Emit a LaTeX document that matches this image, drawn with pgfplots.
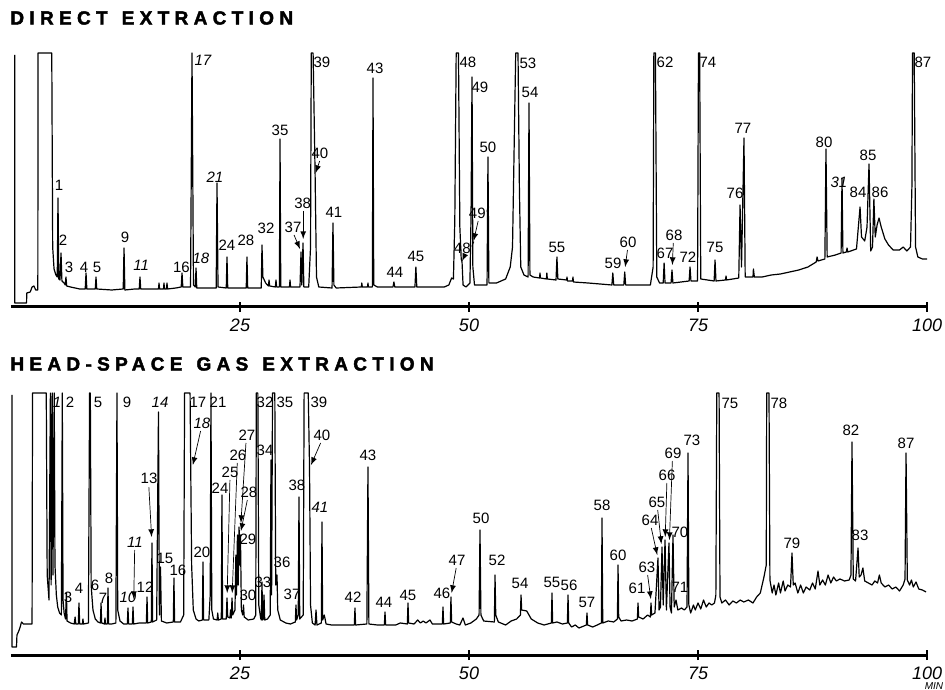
\documentclass[border=0pt]{standalone}
\usepackage{fontspec}
\setmainfont{Liberation Sans}
\newfontfamily\titlefont[LetterSpace=28, FakeBold=2.2]{Liberation Sans Bold}
\usepackage{pgfplots}
\pgfplotsset{compat=1.18}

\newcommand{\lb}[3]{\node[lbl] at (axis cs:#1,#2) {#3};}

\tikzset{
  lbl/.style={font=\fontsize{7.5}{8}\selectfont, inner sep=0pt},
  arr/.style={black, line width=0.35pt, -latex},
}
\pgfplotsset{
  gc/.style={
    scale only axis, width=458pt,
    xmin=0, xmax=100, ymin=0,
    axis x line=bottom, axis y line=none,
    x axis line style={line width=1.5pt,-},
    xtick={25,50,75,100},
    xtick align=center, major tick length=5pt,
    tick style={black,line width=0.9pt},
    xticklabel style={font=\fontsize{9}{10}\selectfont\itshape},
    /pgf/number format/assume math mode=true,
    clip=false,
  },
  trace/.style={black, line width=0.6pt, mark=none, line join=round},
}

\begin{document}
\begin{tikzpicture}
\useasboundingbox (0,0) rectangle (472.5pt,344.5pt);

% direct extraction
\begin{axis}[gc, height=127pt, ymax=254, at={(5.5pt,191pt)}, anchor=south west]
\addplot[trace] coordinates {
(0.4,252) (0.4,4) (1.7,4) (1.72,14) (2.1,15) (2.3,20) (2.5,21) (2.7,17) (2.93,17)
(2.95,254) (4.45,254) (4.55,60) (4.7,38) (4.9,32) (5.05,30) (5.13,109) (5.22,28)
(5.35,27) (5.46,54) (5.56,26) (5.8,24) (5.92,22) (6.0,30) (6.08,21) (6.5,20) (7.5,18)
(8.1,18) (8.19,34) (8.28,18) (9.2,18) (9.28,30) (9.36,18) (11,17) (12.25,18) (12.34,59)
(12.43,17) (13.5,18) (14.0,18) (14.08,30) (14.16,18) (15.5,18) (16.1,18) (16.16,24)
(16.22,18) (16.65,18) (16.7,24) (16.76,18) (16.97,18) (17.03,24) (17.09,18) (18.0,19)
(18.58,20) (18.67,34) (18.76,20) (19.6,20) (19.76,254) (19.92,22) (20.12,20) (20.2,39)
(20.28,19) (21,19) (22.4,19) (22.49,124) (22.6,20) (23.5,19) (23.58,50) (23.66,19)
(25.68,19) (25.76,50) (25.84,19) (27.32,19) (27.4,62) (27.5,30) (27.8,24) (28.1,21)
(28.17,27) (28.24,21) (28.86,20) (28.93,27) (29.0,20) (29.3,20) (29.37,168) (29.45,20)
(30.4,20) (30.46,27) (30.52,20) (31.55,20) (31.66,55) (31.75,22) (31.88,64) (31.97,20)
(32.5,20) (32.7,60) (32.78,254) (32.98,254) (33.2,132) (33.35,30) (33.6,20) (35.05,19)
(35.15,84) (35.25,22) (35.5,19) (38.25,20) (38.3,24) (38.35,20) (38.92,20) (38.97,24)
(39.02,20) (39.45,20) (39.52,229) (39.6,22) (40,20) (41.7,20) (41.8,25) (41.9,20)
(44.1,20) (44.2,40) (44.3,20) (47.3,20) (47.8,22) (48.1,29) (48.3,28) (48.45,87)
(48.6,254) (48.85,254) (49.0,80) (49.15,48) (49.24,45) (49.35,22) (49.67,20) (50.1,24)
(50.22,90) (50.33,230) (50.42,40) (50.6,22) (51.97,22) (52.07,150) (52.17,24) (53,24)
(54,28) (54.5,40) (54.75,60) (55.0,200) (55.1,254) (55.35,254) (55.5,120) (55.65,40)
(56.0,32) (56.45,30) (56.55,204) (56.65,32) (57,30) (57.7,29) (57.75,34) (57.8,29)
(58.45,28) (58.5,34) (58.55,28) (59.5,27) (59.6,50) (59.7,28) (60.65,27) (60.7,30)
(60.75,26) (61.3,26) (61.35,30) (61.4,25) (63,24) (65.6,22) (65.7,34) (65.8,22)
(66.9,22) (67.0,35) (67.1,22) (69.8,22) (70.1,40) (70.18,254) (70.35,254) (70.5,30)
(70.8,24) (71.2,24) (71.3,44) (71.4,24) (72.06,24) (72.16,37) (72.26,24) (74.03,26)
(74.13,40) (74.23,26) (74.95,26) (75.05,254) (75.18,254) (75.3,28) (76.76,26) (76.86,47)
(76.96,26) (78.0,27) (78.06,31) (78.12,27) (79.45,29) (79.59,102) (79.75,40) (80.02,169)
(80.15,30) (81.0,30) (81.05,38) (81.15,30) (82,30) (83,32) (84,33) (85,35) (86,37)
(87,40) (87.9,45) (88.0,50) (88.1,46) (88.85,48) (88.97,158) (89.1,50) (90,52)
(90.62,54) (90.72,129) (90.82,54) (91.2,55) (91.27,59) (91.35,55) (92.3,58) (92.69,100)
(92.85,70) (93.2,66) (93.45,80) (93.67,143) (93.85,56) (94.05,60) (94.2,108) (94.35,70)
(94.55,82) (94.76,89) (95.0,80) (95.4,68) (95.8,62) (96.3,57) (97,57) (97.4,60)
(97.8,56) (98.2,60) (98.35,120) (98.42,254) (98.6,254) (98.75,60) (99.0,50) (99.5,48)
(100,48)
};
\lb{5.24}{122}{1} \lb{5.68}{67}{2} \lb{6.33}{40}{3} \lb{7.97}{40}{4} \lb{9.39}{40}{5}
\lb{12.45}{70}{9} \lb{14.2}{42}{\itshape 11} \lb{18.6}{40}{16} \lb{20.96}{247}{\itshape 17}
\lb{20.74}{49}{\itshape 18} \lb{22.27}{130}{\itshape 21} \lb{23.58}{62}{24} \lb{25.65}{67}{28}
\lb{27.84}{79}{32} \lb{29.37}{177}{35} \lb{30.79}{80}{37} \lb{31.84}{104}{38}
\lb{33.95}{245}{39} \lb{33.73}{154}{40} \lb{35.26}{95}{41} \lb{39.74}{239}{43}
\lb{41.92}{35}{44} \lb{44.21}{51}{45} \lb{49.89}{245}{48} \lb{49.56}{59}{48$'$}
\lb{51.2}{220}{49} \lb{51.2}{94}{49$'$} \lb{52.07}{160}{50} \lb{56.44}{244}{53}
\lb{56.66}{215}{54} \lb{59.6}{60}{55} \lb{65.72}{44}{59} \lb{67.36}{65}{60}
\lb{71.4}{245}{62} \lb{71.4}{54}{67} \lb{72.38}{72}{68} \lb{73.9}{50}{72}
\lb{76.09}{245}{74} \lb{76.86}{60}{75} \lb{79.04}{114}{76} \lb{79.91}{179}{77}
\lb{88.76}{165}{80} \lb{90.39}{125}{\itshape 31} \lb{92.47}{115}{84} \lb{93.56}{152}{85}
\lb{94.87}{115}{86} \lb{99.56}{245}{87}
\draw[arr] (axis cs:30.9,72) -- (axis cs:31.55,58);
\draw[arr] (axis cs:31.9,96) -- (axis cs:31.9,68);
\draw[arr] (axis cs:33.7,146) -- (axis cs:33.25,134);
\draw[arr] (axis cs:49.5,51) -- (axis cs:49.25,46);
\draw[arr] (axis cs:51.0,86) -- (axis cs:50.5,66);
\draw[arr] (axis cs:67.3,57) -- (axis cs:67.05,40);
\draw[arr] (axis cs:72.3,64) -- (axis cs:72.2,42);
\end{axis}

% head-space gas extraction
\begin{axis}[gc, height=131pt, ymax=262, at={(5.5pt,17pt)}, anchor=south west]
\addplot[trace] coordinates {
(0.1,260) (0.1,8) (0.6,8) (0.65,20) (0.85,24) (1.0,28) (1.15,33) (1.35,31) (1.7,31)
(2.3,31) (2.35,262) (3.85,262) (3.95,80) (4.15,55) (4.3,262) (4.38,70) (4.5,262)
(4.58,80) (4.72,262) (4.8,90) (4.95,60) (5.1,48) (5.3,42) (5.5,40) (5.6,262) (5.68,55)
(5.8,42) (5.95,36) (6.05,62) (6.12,34) (6.5,32) (6.9,31) (7.0,38) (7.08,31) (7.35,31)
(7.42,52) (7.5,31) (7.8,31) (7.85,36) (7.92,31) (8.45,32) (8.58,262) (8.66,262)
(8.75,70) (8.84,58) (8.95,45) (9.2,36) (9.5,33) (9.76,32) (9.83,52) (9.9,32) (10.2,31)
(10.26,37) (10.32,31) (10.52,31) (10.59,67) (10.66,31) (11.0,31) (11.45,32) (11.57,262)
(11.65,45) (11.9,34) (12.3,31) (12.7,31) (12.77,47) (12.84,31) (13.25,31) (13.32,48)
(13.39,31) (14.0,32) (14.78,32) (14.85,58) (14.92,32) (15.32,33) (15.39,112) (15.46,33)
(15.9,35) (16.1,243) (16.2,40) (16.32,88) (16.42,34) (17.0,32) (17.72,33) (17.79,77)
(17.86,33) (18.5,33) (18.85,40) (18.95,262) (19.55,262) (19.62,188) (19.72,90)
(19.9,45) (20.2,36) (20.5,34) (20.89,35) (20.96,93) (21.03,35) (21.6,35) (21.75,60)
(21.83,262) (21.92,45) (22.1,36) (22.5,35) (22.57,42) (22.64,35) (22.96,36) (23.03,160)
(23.1,36) (23.5,36) (23.58,57) (23.66,38) (23.9,37) (23.97,45) (24.04,37) (24.13,57)
(24.2,40) (24.45,45) (24.55,100) (24.62,60) (24.72,120) (24.8,70) (24.9,128) (24.98,90)
(25.05,120) (25.15,45) (25.3,40) (25.38,50) (25.46,38) (25.9,35) (26.5,36) (26.72,40)
(26.78,262) (26.95,262) (27.05,50) (27.25,37) (27.33,35) (27.4,73) (27.47,35) (27.55,36)
(27.62,60) (27.7,35) (28.0,36) (28.3,40) (28.38,195) (28.45,60) (28.55,262) (28.8,262)
(28.9,70) (29.04,80) (29.12,45) (29.4,35) (30.0,32) (30.5,31) (31.04,33) (31.11,50)
(31.18,35) (31.36,40) (31.44,158) (31.52,36) (31.9,40) (32.0,262) (32.45,262)
(32.59,188) (32.7,50) (32.9,32) (33.2,30) (33.3,45) (33.4,30) (33.88,32) (33.95,133)
(34.02,35) (34.2,40) (34.4,31) (35,30) (37.48,30) (37.55,47) (37.62,30) (38.85,31)
(38.97,188) (39.07,31) (40.0,30) (40.76,30) (40.83,43) (40.9,30) (42.0,30) (42.5,32)
(43.27,31) (43.34,52) (43.41,32) (44.0,31) (44.4,35) (44.7,32) (45.0,34) (45.3,32)
(45.74,35) (46.0,31) (47.09,31) (47.16,48) (47.23,31) (47.96,32) (48.03,58) (48.1,33)
(48.6,31) (49.0,30) (49.34,37) (49.6,30) (50.2,32) (50.8,36) (51.1,40) (51.2,125)
(51.3,40) (51.6,34) (52.77,33) (52.84,80) (52.92,40) (53.2,33) (54.0,30) (54.6,34)
(55.2,36) (55.61,40) (55.68,60) (55.75,45) (56.3,44) (56.8,36) (57.5,32) (58.2,30)
(58.99,32) (59.06,62) (59.13,32) (59.6,33) (60.2,31) (60.74,32) (60.81,60) (60.88,32)
(61.2,28) (61.6,30) (62.0,27) (62.81,30) (62.88,42) (62.95,30) (63.5,28) (64.0,30)
(64.45,32) (64.52,137) (64.6,32) (65.2,34) (65.8,33) (66.2,36) (66.27,90) (66.34,38)
(66.6,34) (67.2,35) (67.8,34) (68.38,36) (68.45,52) (68.52,38) (69.0,36) (69.5,40)
(69.8,38) (69.87,52) (69.94,40) (70.3,42) (70.63,97) (70.75,45) (70.9,48) (71.07,108)
(71.2,50) (71.4,115) (71.55,45) (71.83,112) (71.95,48) (72.1,42) (72.27,120) (72.4,48)
(72.6,55) (72.8,45) (73.2,47) (73.5,45) (73.8,48) (73.91,202) (74.0,50) (74.2,42)
(74.5,50) (74.7,45) (75.0,52) (75.3,46) (75.6,55) (75.9,48) (76.2,52) (76.5,50)
(76.8,52) (76.95,60) (77.05,262) (77.3,262) (77.4,58) (77.6,52) (78.0,55) (78.4,50)
(78.8,54) (79.2,52) (79.6,55) (80,53) (80.5,55) (81,52) (81.4,58) (81.8,62) (82.2,78)
(82.45,90) (82.5,262) (82.75,262) (82.85,75) (83.1,62) (83.3,70) (83.5,60) (83.8,72)
(84.0,62) (84.3,74) (84.5,64) (84.8,70) (85.1,68) (85.26,102) (85.4,70) (85.6,72)
(85.9,62) (86.2,70) (86.5,62) (86.8,68) (87.2,65) (87.5,72) (87.8,66) (88.1,84)
(88.3,70) (88.6,75) (88.9,70) (89.2,80) (89.5,72) (89.8,78) (90.1,74) (90.5,76)
(91.0,74) (91.5,75) (91.7,80) (91.81,213) (91.95,76) (92.2,74) (92.47,107) (92.6,78)
(92.8,80) (93.0,87) (93.2,74) (93.6,72) (94.0,70) (94.3,74) (94.6,72) (94.8,80)
(95.0,72) (95.4,68) (95.8,70) (96.2,66) (96.6,68) (97.0,64) (97.4,70) (97.6,76)
(97.71,202) (97.85,75) (98.1,70) (98.3,75) (98.5,68) (98.8,73) (99.1,66) (99.5,65)
(99.9,63)
};
\lb{5.02}{253}{\itshape 1} \lb{6.44}{253}{2} \lb{6.22}{58}{3} \lb{7.42}{67}{4}
\lb{9.5}{253}{5} \lb{9.17}{70}{6} \lb{10.04}{57}{7} \lb{10.7}{77}{8} \lb{12.66}{253}{9}
\lb{12.77}{58}{\itshape 10} \lb{13.54}{113}{\itshape 11} \lb{14.63}{68}{12}
\lb{15.07}{177}{13} \lb{16.27}{253}{\itshape 14} \lb{16.81}{97}{15} \lb{18.23}{85}{16}
\lb{20.41}{253}{17} \lb{20.85}{232}{\itshape 18} \lb{20.85}{103}{20} \lb{22.6}{253}{21}
\lb{22.82}{167}{24} \lb{23.91}{183}{25} \lb{24.78}{200}{26} \lb{25.76}{220}{27}
\lb{25.98}{163}{28} \lb{25.87}{116}{29} \lb{25.87}{60}{30} \lb{27.73}{253}{32}
\lb{27.51}{73}{33} \lb{27.73}{205}{34} \lb{29.91}{253}{35} \lb{29.59}{93}{36}
\lb{30.68}{61}{37} \lb{31.22}{170}{38} \lb{33.62}{253}{39} \lb{33.95}{220}{40}
\lb{33.73}{148}{\itshape 41} \lb{37.34}{58}{42} \lb{38.97}{200}{43} \lb{40.72}{53}{44}
\lb{43.34}{60}{45} \lb{47.05}{62}{46} \lb{48.69}{95}{47} \lb{51.31}{137}{50}
\lb{53.06}{95}{52} \lb{55.57}{72}{54} \lb{59.06}{73}{55} \lb{60.92}{70}{56}
\lb{62.88}{53}{57} \lb{64.52}{150}{58} \lb{66.27}{100}{60} \lb{68.34}{67}{61}
\lb{69.43}{88}{63} \lb{69.76}{135}{64} \lb{70.52}{153}{65} \lb{71.62}{180}{66}
\lb{72.27}{202}{69} \lb{73.03}{123}{70} \lb{73.03}{68}{71} \lb{74.34}{215}{73}
\lb{78.49}{252}{75} \lb{83.84}{252}{78} \lb{85.26}{112}{79} \lb{91.7}{225}{82}
\lb{92.69}{120}{83} \lb{97.71}{212}{87}
\draw[arr] (axis cs:13.5,105) -- (axis cs:13.4,56);
\draw[arr] (axis cs:15.05,168) -- (axis cs:15.35,118);
\draw[arr] (axis cs:20.7,224) -- (axis cs:19.85,190);
\draw[arr] (axis cs:23.9,175) -- (axis cs:23.6,62);
\draw[arr] (axis cs:24.7,192) -- (axis cs:24.15,62);
\draw[arr] (axis cs:25.65,212) -- (axis cs:25.1,132);
\draw[arr] (axis cs:25.8,155) -- (axis cs:25.1,124);
\draw[arr] (axis cs:33.8,212) -- (axis cs:32.75,190);
\draw[arr] (axis cs:48.6,87) -- (axis cs:48.1,62);
\draw[arr] (axis cs:69.5,80) -- (axis cs:69.85,56);
\draw[arr] (axis cs:69.9,127) -- (axis cs:70.55,100);
\draw[arr] (axis cs:70.6,145) -- (axis cs:71.0,111);
\draw[arr] (axis cs:71.6,172) -- (axis cs:71.42,118);
\draw[arr] (axis cs:72.2,194) -- (axis cs:71.88,115);
\end{axis}

\node[anchor=west, inner sep=0pt, font=\titlefont\fontsize{9.5}{10}\selectfont]
  at (5pt,335.5pt) {DIRECT\hspace{7pt}EXTRACTION};
\node[anchor=west, inner sep=0pt, font=\titlefont\fontsize{9.5}{10}\selectfont]
  at (5pt,162.5pt) {HEAD-SPACE\hspace{7pt}GAS\hspace{7pt}EXTRACTION};
\node[inner sep=0pt, font=\fontsize{5}{6}\selectfont\itshape] at (467pt,1.3pt) {MIN};
\end{tikzpicture}
\end{document}
